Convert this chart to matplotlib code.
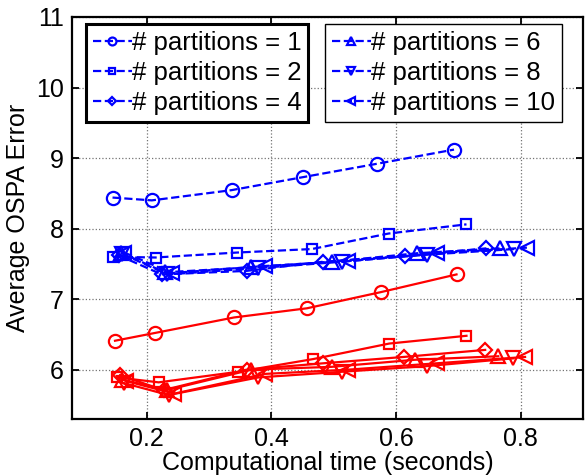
import matplotlib.pyplot as plt
from matplotlib.legend import Legend

plt.rcParams['font.family'] = ['Liberation Sans', 'DejaVu Sans']

partitions = [1, 2, 4, 6, 8, 10]
markers = ['o', 's', 'D', '^', 'v', '<']
msizes = [9.5, 7.5, 7, 9.5, 9.5, 9.5]

# blue (dashed) series
x_blue = [
    [0.145, 0.208, 0.336, 0.451, 0.570, 0.693],
    [0.146, 0.214, 0.344, 0.465, 0.588, 0.713],
    [0.155, 0.224, 0.360, 0.483, 0.614, 0.745],
    [0.158, 0.229, 0.368, 0.497, 0.633, 0.766],
    [0.161, 0.233, 0.379, 0.513, 0.650, 0.790],
    [0.164, 0.240, 0.390, 0.523, 0.665, 0.810],
]
y_blue = [
    [8.44, 8.40, 8.545, 8.73, 8.92, 9.12],
    [7.60, 7.59, 7.66, 7.71, 7.93, 8.06],
    [7.62, 7.35, 7.40, 7.53, 7.61, 7.72],
    [7.66, 7.38, 7.45, 7.53, 7.65, 7.72],
    [7.64, 7.35, 7.44, 7.53, 7.63, 7.71],
    [7.66, 7.37, 7.47, 7.54, 7.65, 7.73],
]

# red (solid) series
x_red = [
    [0.149, 0.213, 0.340, 0.457, 0.576, 0.697],
    [0.152, 0.219, 0.347, 0.467, 0.589, 0.713],
    [0.157, 0.227, 0.360, 0.483, 0.612, 0.743],
    [0.160, 0.232, 0.368, 0.497, 0.630, 0.764],
    [0.163, 0.235, 0.379, 0.513, 0.649, 0.788],
    [0.166, 0.244, 0.390, 0.523, 0.665, 0.807],
]
y_red = [
    [6.41, 6.52, 6.74, 6.87, 7.10, 7.35],
    [5.89, 5.82, 5.97, 6.15, 6.37, 6.48],
    [5.92, 5.71, 6.00, 6.09, 6.18, 6.28],
    [5.86, 5.71, 6.00, 6.04, 6.14, 6.19],
    [5.81, 5.64, 5.89, 5.97, 6.05, 6.16],
    [5.84, 5.66, 5.94, 6.00, 6.09, 6.18],
]

xticks = [0.2, 0.4, 0.6, 0.8]
yticks = [6, 7, 8, 9, 10, 11]

fig = plt.figure(figsize=(5.85, 4.76), dpi=100)
ax = fig.add_axes([0.1231, 0.1197, 0.8735, 0.8446])

handles = []
for i, p in enumerate(partitions):
    h, = ax.plot(x_blue[i], y_blue[i], color='blue', linestyle='--', linewidth=1.6,
                 marker=markers[i], markersize=msizes[i], markerfacecolor='none',
                 markeredgewidth=1.6, label='# partitions = ' + str(p))
    handles.append(h)
    ax.plot(x_red[i], y_red[i], color='red', linestyle='-', linewidth=1.6,
            marker=markers[i], markersize=msizes[i], markerfacecolor='none',
            markeredgewidth=1.6)

ax.set_xlim(0.08, 0.9)
ax.set_ylim(5.3, 11)
ax.set_xticks(xticks)
ax.set_yticks(yticks)
ax.set_xticklabels(['0.2', '0.4', '0.6', '0.8'])
ax.grid(True, linestyle=':', color='0.45', linewidth=0.9)
ax.tick_params(direction='in', top=True, right=True, length=5, width=1.3,
               labelsize=18, pad=6)
for s in ax.spines.values():
    s.set_linewidth(1.6)

ax.set_xlabel('Computational time (seconds)', fontsize=18, labelpad=0)
ax.set_ylabel('Average OSPA Error', fontsize=18, labelpad=4)

leg_kw = dict(fontsize=18.5, handlelength=1.5, handletextpad=0.0, labelspacing=0.22,
              borderpad=0.28, borderaxespad=0, markerscale=0.6, fancybox=False,
              framealpha=1, edgecolor='black')
leg1 = Legend(ax, handles[:3], [h.get_label() for h in handles[:3]],
              loc='upper left', bbox_to_anchor=(0.027, 0.982), **leg_kw)
leg1.get_frame().set_linewidth(2.2)
ax.add_artist(leg1)
leg2 = Legend(ax, handles[3:], [h.get_label() for h in handles[3:]],
              loc='upper left', bbox_to_anchor=(0.495, 0.982), **leg_kw)
leg2.get_frame().set_linewidth(1.0)
ax.add_artist(leg2)

fig.savefig('out.png', dpi=100)
